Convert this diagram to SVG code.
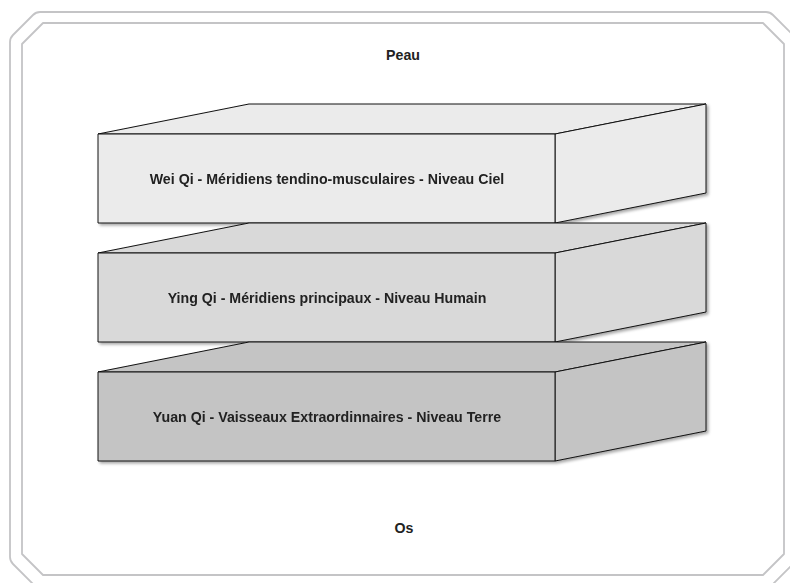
<svg xmlns="http://www.w3.org/2000/svg" width="790" height="583" viewBox="0 0 790 583">
<defs>
<style>
.frame{fill:none;stroke:#c4c4c6;stroke-width:1.8;stroke-linejoin:round}
.face{stroke:#111;stroke-width:1;stroke-linejoin:round}
.lbl{font-family:"Liberation Sans",Arial,sans-serif;font-weight:bold;font-size:14.2px;fill:#222;text-anchor:middle}
.b1{fill:#ebebeb}
.b2{fill:#d9d9d9}
.b3{fill:#c4c4c4}
</style>
<filter id="sh" x="-10%" y="-10%" width="125%" height="130%">
<feDropShadow dx="2" dy="2" stdDeviation="1.6" flood-color="#000" flood-opacity="0.35"/>
</filter>
</defs>
<rect width="790" height="583" fill="#fff"/>
<g id="frame">
<path class="frame" d="M40,12 L766,12 Q770,12 773,15 L793,35 Q796,38 796,42 L796,557 Q796,561 793,564 L773,584 Q770,587 766,587 L40,587 Q36,587 33,584 L13,564 Q10,561 10,557 L10,42 Q10,38 13,35 L33,15 Q36,12 40,12 Z"/>
<path class="frame" d="M43,23 L763,23 L784,44 L784,554 L763,575 L43,575 L22,554 L22,44 Z"/>
</g>
<g id="peau"><text class="lbl" x="403" y="60">Peau</text></g>
<g id="os"><text class="lbl" x="404" y="533">Os</text></g>
<g id="niveau-ciel" filter="url(#sh)">
<polygon class="face b1" points="98,134 249,104 706,104 555,134"/>
<polygon class="face b1" points="555,134 706,104 706,193 555,223"/>
<rect class="face b1" x="98" y="134" width="457" height="89"/>
<text class="lbl" x="327" y="184">Wei Qi - Méridiens tendino-musculaires - Niveau Ciel</text>
</g>
<g id="niveau-humain" filter="url(#sh)">
<polygon class="face b2" points="98,253 249,223 706,223 555,253"/>
<polygon class="face b2" points="555,253 706,223 706,312 555,342"/>
<rect class="face b2" x="98" y="253" width="457" height="89"/>
<text class="lbl" x="327" y="303">Ying Qi - Méridiens principaux - Niveau Humain</text>
</g>
<g id="niveau-terre" filter="url(#sh)">
<polygon class="face b3" points="98,372 249,342 706,342 555,372"/>
<polygon class="face b3" points="555,372 706,342 706,431 555,461"/>
<rect class="face b3" x="98" y="372" width="457" height="89"/>
<text class="lbl" x="327" y="422">Yuan Qi - Vaisseaux Extraordinnaires - Niveau Terre</text>
</g>
<g id="connectors"></g>
</svg>
